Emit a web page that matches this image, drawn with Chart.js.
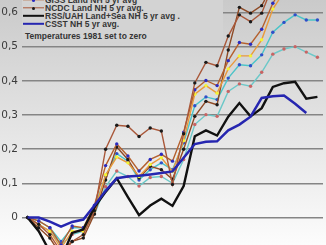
<!DOCTYPE html>
<html>
<head>
<meta charset="utf-8">
<script src="https://cdn.jsdelivr.net/npm/chart.js@4.4.1/dist/chart.umd.min.js"></script>
<style>
    html, body { margin: 0; padding: 0; }
    body {
        width: 326px; height: 245px; overflow: hidden; position: relative;
        background: linear-gradient(to bottom, #cacaca 0%, #fcfcfc 100%);
    }
    #wrap { position: absolute; left: 0; top: -32px; width: 327px; height: 294px; }
    #wrap canvas { display: block; }
    #legend {
        position: absolute; left: 22px; top: 0; width: 201px; height: 42px;
        background: #d3d3d3;
        font: bold 8.5px 'Liberation Sans', Arial, sans-serif; color: #353535;
    }
    .row { position: absolute; left: 1px; height: 9px; display: flex; align-items: center; white-space: nowrap; }
    .sample { position: relative; width: 21px; height: 9px; margin-right: 1px; }
    .sample .ln { position: absolute; left: 0; right: 0; top: 50%; transform: translateY(-50%); }
    .sample .dot { position: absolute; left: 9px; top: 50%; width: 3px; height: 3px; margin-top: -1.5px; border-radius: 50%; }
    .note { position: absolute; left: 3px; top: 30.5px; white-space: nowrap; }
</style>
</head>
<body>
<div id="wrap"><canvas id="chart" width="327" height="294"></canvas></div>
<div id="legend"></div>
<script>
// ─── Data ─────────────────────────────────────────────

const years = [
    '1981', '1982', '1983', '1984', '1985', '1986', '1987', '1988', '1989',
    '1990', '1991', '1992', '1993', '1994', '1995', '1996', '1997', '1998',
    '1999', '2000', '2001', '2002', '2003', '2004', '2005', '2006', '2007',
];

const ncdc         = [0, -0.02, -0.05, -0.1, -0.07, -0.05, 0.02, 0.2, 0.27, 0.267, 0.237, 0.262, 0.253, 0.097, 0.245, 0.394, 0.454, 0.444, 0.531, 0.593, 0.573, 0.598, 0.68, 0.72, 0.74, 0.72, 0.7];
const giss         = [0, -0.01, -0.03, -0.08, -0.025, -0.03, 0.036, 0.152, 0.215, 0.18, 0.136, 0.17, 0.185, 0.165, 0.25, 0.374, 0.401, 0.386, 0.459, 0.512, 0.507, 0.551, 0.627, 0.68, 0.7, 0.69, 0.68];
const orangeYellow = [0, -0.02, -0.04, -0.09, -0.04, -0.04, 0.02, 0.125, 0.177, 0.16, 0.12, 0.155, 0.175, 0.135, 0.225, 0.361, 0.386, 0.364, 0.435, 0.473, 0.473, 0.52, 0.61, 0.66, 0.68, 0.67, 0.66];
const brownLow     = [0, -0.03, -0.06, -0.11, -0.07, -0.06, 0.01, 0.11, 0.206, 0.17, 0.116, 0.15, 0.14, 0.112, 0.2, 0.296, 0.34, 0.33, 0.49, 0.615, 0.598, 0.62, 0.68, 0.72, 0.74, 0.72, 0.71];
const cyanBlue     = [0, -0.01, -0.03, -0.07, -0.03, -0.03, 0.03, 0.12, 0.187, 0.165, 0.11, 0.14, 0.16, 0.14, 0.219, 0.327, 0.353, 0.345, 0.408, 0.447, 0.444, 0.476, 0.542, 0.571, 0.593, 0.578, 0.578];
const cyanRed      = [0, -0.02, -0.04, -0.08, -0.05, -0.04, 0.01, 0.09, 0.136, 0.12, 0.092, 0.117, 0.12, 0.1, 0.17, 0.272, 0.301, 0.296, 0.369, 0.391, 0.384, 0.425, 0.478, 0.493, 0.5, 0.484, 0.469];
const rssUah       = [0, -0.04, -0.1, -0.12, -0.045, -0.035, 0.03, 0.075, 0.115, 0.06, 0.007, 0.035, 0.055, 0.034, 0.092, 0.238, 0.255, 0.24, 0.295, 0.335, 0.296, 0.32, 0.382, 0.393, 0.397, 0.348, 0.353];
const csst         = [0, 0, -0.012, -0.027, -0.013, -0.006, 0.035, 0.078, 0.115, 0.12, 0.122, 0.126, 0.13, 0.135, 0.175, 0.215, 0.222, 0.223, 0.255, 0.272, 0.295, 0.35, 0.355, 0.357, 0.333, 0.306, null];

const yMin  = -0.1;
const yMax  = 0.7;
const yStep = 0.1;

const noteText = 'Temperatures 1981 set to zero';

// ─── Helpers ──────────────────────────────────────────

const GRID = '#858585';

function _plain(label, data, color, width) {
    return { label, data, borderColor: color, borderWidth: width, pointRadius: 0, tension: 0 };
}

function _marked(label, data, color, marker) {
    return {
        label, data,
        borderColor: color, borderWidth: 1.4, tension: 0,
        pointRadius: 1.7, pointBorderWidth: 0, pointBackgroundColor: marker,
    };
}

function _tickLabel(v) {
    if (Math.abs(v) < 1e-9) return '0';
    return v.toFixed(1).replace('.', ',');
}

// ─── Chart ────────────────────────────────────────────

// first dataset is painted last, so the two thick series go first
const datasets = [
    _plain('CSST NH 5 yr avg.', csst, '#2626b0', 2.5),
    _plain('RSS/UAH Land+Sea NH 5 yr avg .', rssUah, '#111111', 2.4),
    _marked('NCDC Land NH 5 yr avg.', ncdc, '#a9583a', '#1a1a1a'),
    _marked('GISS Land NH 5 yr avg', giss, '#b4602e', '#2b2bc0'),
    _marked('orange / yellow', orangeYellow, '#e99a3c', '#f4f432'),
    _marked('brown / black', brownLow, '#8e4a26', '#1a1a1a'),
    _marked('cyan / blue', cyanBlue, '#4cc4c8', '#2f4fc8'),
    _marked('cyan / red', cyanRed, '#6cc8c8', '#c86464'),
];

new Chart(document.getElementById('chart').getContext('2d'), {
    type: 'line',
    data: { labels: years, datasets },
    options: {
        responsive: false,
        animation: false,
        layout: { padding: { top: 10, bottom: 10, left: 0, right: 0 } },
        plugins: { legend: { display: false }, tooltip: { enabled: false } },
        scales: {
            x: { display: false, offset: true },
            y: {
                min: yMin, max: yMax,
                afterFit: s => { s.width = 22; },
                grid:   { color: GRID, lineWidth: 1.6, drawTicks: false },
                border: { display: false },
                ticks:  {
                    stepSize: yStep, padding: 4, color: '#3c3c3c',
                    font: { family: "'DejaVu Sans', sans-serif", size: 10.5 },
                    callback: _tickLabel,
                },
            },
        },
    },
});

// ─── Legend (inside the plot, top rows cut by the frame) ──

const legendRows = [
    { idx: 3, y: -4.5, line: 1.4, dot: true },
    { idx: 2, y: 3.5,  line: 1.4, dot: true },
    { idx: 1, y: 11.5, line: 2.4, dot: false },
    { idx: 0, y: 19.5, line: 2.4, dot: false },
];

const legendEl = document.getElementById('legend');
legendRows.forEach(r => {
    const ds  = datasets[r.idx];
    const row = document.createElement('div');
    row.className = 'row';
    row.style.top = r.y + 'px';
    const sample = document.createElement('span');
    sample.className = 'sample';
    const ln = document.createElement('span');
    ln.className = 'ln';
    ln.style.height = r.line + 'px';
    ln.style.background = ds.borderColor;
    sample.appendChild(ln);
    if (r.dot) {
        const dot = document.createElement('span');
        dot.className = 'dot';
        dot.style.background = ds.pointBackgroundColor;
        sample.appendChild(dot);
    }
    row.appendChild(sample);
    row.appendChild(document.createTextNode(ds.label));
    legendEl.appendChild(row);
});

const note = document.createElement('div');
note.className = 'note';
note.textContent = noteText;
legendEl.appendChild(note);
</script>
</body>
</html>
